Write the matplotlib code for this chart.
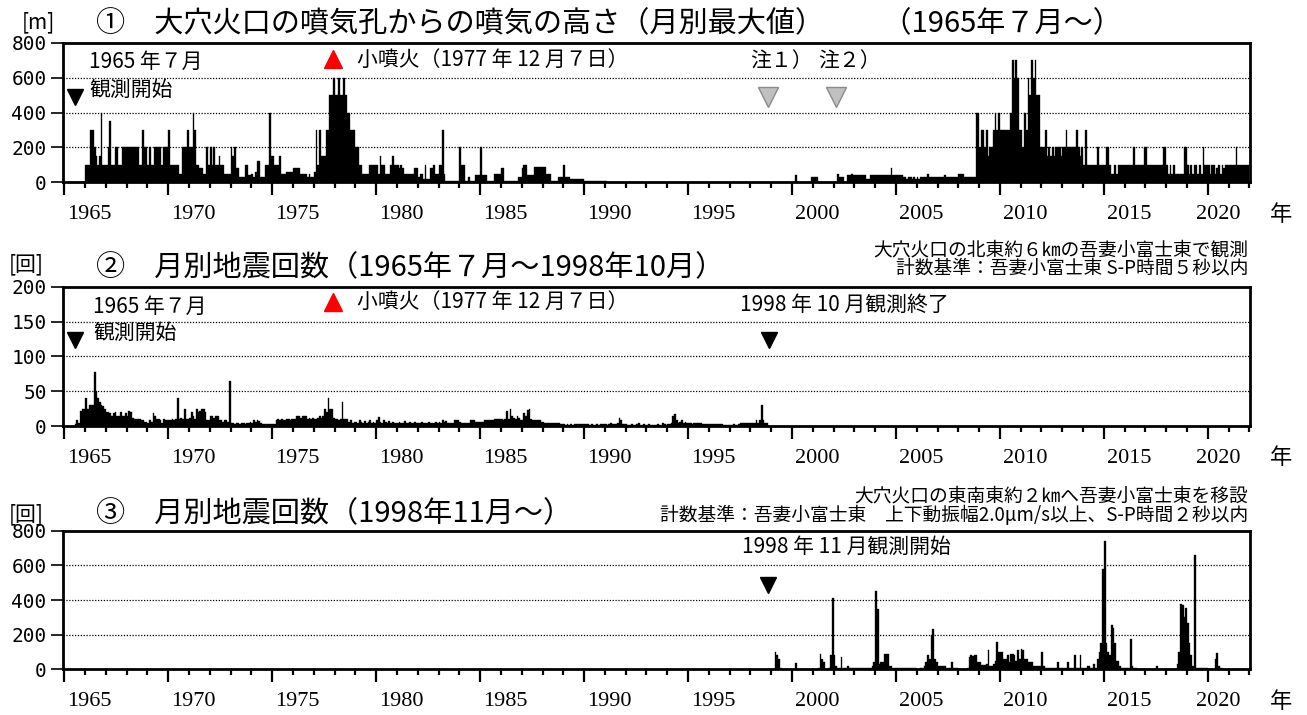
import numpy as np
import matplotlib
matplotlib.use("Agg")
import matplotlib.pyplot as plt
from matplotlib.ticker import MultipleLocator
import matplotlib.transforms as mtrans

JP = ['Noto Sans CJK JP', 'DejaVu Sans']
plt.rcParams['font.family'] = JP

# ---------------- data ----------------
# (1) monthly maximum plume height [m], Jan 1965 .. Dec 2021 (observation from Jul 1965)
plume_start = 1965.0
plume_height = (
    [0, 0, 0, 0, 0, 0, 0, 0, 0, 0, 0, 0] +                          # 1965
    [100, 100, 100, 300, 300, 200, 150, 100, 150, 400, 100, 100] +  # 1966
    [100, 200, 350, 100, 100, 200, 200, 100, 100, 200, 200, 200] +  # 1967
    [200, 200, 200, 200, 200, 200, 200, 100, 100, 300, 200, 200] +  # 1968
    [100, 200, 100, 100, 200, 200, 200, 200, 100, 200, 200, 200] +  # 1969
    [300, 100, 100, 100, 100, 100, 50, 50, 200, 200, 200, 300] +    # 1970
    [200, 200, 400, 300, 100, 100, 80, 80, 50, 50, 200, 100] +      # 1971
    [200, 100, 200, 100, 100, 150, 100, 100, 50, 50, 50, 50] +      # 1972
    [200, 150, 200, 80, 80, 30, 30, 30, 100, 100, 40, 40] +         # 1973
    [50, 30, 60, 120, 120, 30, 30, 30, 100, 100, 400, 150] +        # 1974
    [150, 100, 100, 100, 150, 50, 50, 50, 60, 60, 60, 60] +         # 1975
    [80, 80, 80, 80, 50, 50, 50, 50, 30, 50, 30, 30] +              # 1976
    [60, 300, 100, 300, 150, 150, 150, 300, 300, 500, 500, 600] +   # 1977
    [500, 500, 600, 500, 500, 600, 500, 400, 400, 300, 300, 300] +  # 1978
    [200, 200, 100, 100, 50, 50, 50, 50, 100, 100, 100, 100] +      # 1979
    [100, 50, 150, 100, 100, 50, 50, 50, 100, 150, 100, 100] +      # 1980
    [100, 80, 100, 80, 50, 50, 50, 50, 50, 50, 80, 80] +            # 1981
    [30, 50, 50, 20, 100, 20, 20, 80, 80, 100, 50, 50] +            # 1982
    [100, 100, 300, 50, 10, 10, 10, 10, 10, 10, 10, 10] +           # 1983
    [200, 100, 100, 10, 10, 30, 5, 5, 5, 40, 40, 40] +              # 1984
    [200, 40, 40, 40, 5, 5, 5, 5, 50, 50, 50, 50] +                 # 1985
    [80, 80, 5, 5, 5, 5, 5, 5, 5, 5, 30, 30] +                      # 1986
    [80, 100, 100, 40, 40, 40, 40, 90, 90, 90, 90, 90] +            # 1987
    [90, 90, 50, 50, 50, 10, 10, 10, 10, 30, 30, 30] +              # 1988
    [100, 30, 30, 30, 20, 20, 20, 20, 20, 20, 20, 20] +             # 1989
    [10, 10, 10, 10, 10, 10, 10, 8, 8, 8, 8, 8] +                   # 1990
    [8, 0, 0, 0, 0, 0, 0, 0, 0, 0, 0, 0] +                          # 1991
    [0, 0, 0, 0, 0, 0, 0, 0, 0, 0, 0, 0] +                          # 1992
    [0, 0, 0, 0, 0, 0, 0, 0, 0, 0, 0, 0] +                          # 1993
    [0, 0, 0, 0, 0, 0, 0, 0, 0, 0, 0, 0] +                          # 1994
    [0, 0, 0, 0, 0, 0, 0, 0, 0, 0, 0, 0] +                          # 1995
    [0, 0, 0, 0, 0, 0, 0, 0, 0, 0, 0, 0] +                          # 1996
    [0, 0, 0, 0, 0, 0, 0, 0, 0, 0, 0, 0] +                          # 1997
    [0, 0, 0, 0, 0, 0, 0, 0, 0, 0, 0, 0] +                          # 1998
    [0, 0, 0, 0, 0, 0, 0, 0, 0, 0, 0, 0] +                          # 1999
    [0, 0, 40, 0, 0, 0, 0, 0, 0, 0, 0, 30] +                        # 2000
    [30, 30, 30, 0, 0, 0, 0, 0, 0, 0, 0, 0] +                       # 2001
    [0, 0, 50, 30, 30, 30, 0, 0, 40, 40, 50, 40] +                  # 2002
    [40, 40, 40, 40, 40, 40, 40, 20, 20, 40, 40, 40] +              # 2003
    [40, 40, 40, 40, 40, 40, 40, 40, 40, 80, 40, 40] +              # 2004
    [40, 40, 40, 40, 30, 30, 20, 30, 30, 20, 30, 20] +              # 2005
    [30, 20, 30, 30, 30, 30, 50, 30, 30, 30, 30, 30] +              # 2006
    [30, 30, 30, 30, 40, 30, 30, 30, 30, 30, 30, 30] +              # 2007
    [50, 50, 50, 30, 30, 30, 30, 30, 30, 30, 400, 400] +            # 2008
    [200, 300, 300, 200, 300, 150, 200, 200, 300, 400, 300, 400] +  # 2009
    [300, 300, 300, 300, 300, 300, 400, 700, 600, 700, 600, 300] +  # 2010
    [300, 200, 400, 300, 600, 500, 700, 600, 700, 500, 500, 200] +  # 2011
    [200, 200, 300, 150, 200, 150, 200, 150, 200, 200, 200, 150] +  # 2012
    [200, 200, 300, 200, 200, 200, 200, 200, 300, 200, 150, 200] +  # 2013
    [100, 300, 100, 100, 100, 100, 100, 100, 200, 100, 100, 100] +  # 2014
    [100, 200, 200, 100, 50, 50, 100, 50, 100, 100, 100, 100] +     # 2015
    [100, 100, 100, 100, 100, 200, 100, 100, 100, 100, 100, 200] +  # 2016
    [200, 100, 100, 100, 100, 100, 100, 100, 100, 100, 200, 200] +  # 2017
    [100, 50, 100, 50, 100, 50, 50, 50, 50, 50, 200, 200] +         # 2018
    [100, 50, 100, 50, 100, 100, 50, 100, 50, 200, 100, 100] +      # 2019
    [100, 50, 100, 100, 50, 80, 100, 50, 100, 80, 100, 100] +       # 2020
    [100, 100, 100, 100, 200, 100, 100, 100, 100, 100, 100, 100]    # 2021
)

# (2) monthly earthquake count, Jul 1965 .. Oct 1998
quake_old_start = 1965.5
quake_old = (
    [3, 8, 5, 22, 25, 25] +                                   # 1965 Jul-Dec
    [40, 25, 30, 30, 30, 78, 50, 40, 35, 30, 28, 25] +        # 1966
    [20, 20, 18, 15, 18, 20, 15, 15, 20, 15, 15, 18] +        # 1967
    [15, 22, 20, 12, 10, 10, 10, 10, 8, 8, 6, 6] +            # 1968
    [5, 8, 6, 18, 15, 10, 10, 8, 5, 10, 8, 8] +               # 1969
    [8, 8, 10, 8, 10, 40, 10, 12, 10, 25, 10, 10] +           # 1970
    [12, 20, 15, 10, 25, 20, 22, 25, 25, 20, 8, 8] +          # 1971
    [15, 15, 12, 15, 15, 8, 8, 6, 8, 8, 6, 65] +              # 1972
    [5, 4, 3, 5, 4, 3, 4, 5, 3, 4, 5, 6] +                    # 1973
    [5, 8, 6, 8, 7, 5, 3, 3, 3, 3, 3, 3] +                    # 1974
    [3, 3, 8, 10, 8, 10, 9, 8, 10, 10, 8, 10] +               # 1975
    [10, 10, 15, 15, 12, 15, 15, 15, 10, 12, 10, 12] +        # 1976
    [10, 10, 12, 15, 12, 15, 25, 20, 40, 25, 25, 12] +        # 1977
    [10, 10, 8, 10, 35, 10, 10, 10, 6, 8, 5, 6] +             # 1978
    [6, 5, 8, 6, 5, 7, 5, 6, 8, 5, 6, 5] +                    # 1979
    [8, 13, 6, 5, 8, 6, 5, 7, 5, 6, 5, 4] +                   # 1980
    [5, 6, 4, 5, 7, 5, 4, 6, 5, 4, 6, 5] +                    # 1981
    [5, 4, 6, 5, 4, 5, 6, 4, 5, 5, 6, 5] +                    # 1982
    [6, 5, 8, 6, 7, 5, 5, 5, 5, 8, 8, 8] +                    # 1983
    [6, 4, 5, 4, 5, 4, 8, 8, 8, 6, 6, 6] +                    # 1984
    [6, 6, 8, 8, 8, 8, 8, 8, 10, 10, 10, 10] +                # 1985
    [10, 8, 10, 22, 10, 24, 15, 12, 10, 15, 12, 8] +          # 1986
    [8, 18, 15, 23, 25, 10, 8, 8, 8, 8, 8, 6] +               # 1987
    [6, 5, 5, 5, 5, 5, 5, 5, 5, 5, 3, 3] +                    # 1988
    [3, 2, 3, 2, 3, 2, 3, 3, 3, 3, 3, 3] +                    # 1989
    [3, 3, 3, 2, 3, 2, 2, 3, 2, 3, 3, 3] +                    # 1990
    [3, 2, 3, 5, 3, 3, 3, 5, 12, 8, 3, 3] +                   # 1991
    [3, 2, 2, 3, 2, 2, 3, 5, 2, 2, 3, 2] +                    # 1992
    [2, 3, 2, 2, 2, 2, 3, 2, 2, 5, 3, 2] +                    # 1993
    [3, 3, 5, 15, 17, 8, 5, 6, 8, 5, 6, 5] +                  # 1994
    [5, 5, 3, 5, 5, 5, 5, 5, 3, 3, 3, 3] +                    # 1995
    [3, 3, 3, 3, 3, 3, 3, 3, 2, 2, 2, 2] +                    # 1996
    [2, 2, 3, 2, 2, 3, 5, 5, 5, 5, 5, 5] +                    # 1997
    [5, 5, 5, 8, 5, 8, 30, 8, 5, 5]                           # 1998 Jan-Oct
)

# (3) monthly earthquake count, Nov 1998 .. Dec 2021
quake_new_start = 1998 + 10 / 12
quake_new = (
    [0, 0] +                                                  # 1998 Nov-Dec
    [0, 0, 100, 80, 60, 10, 0, 0, 0, 0, 0, 0] +               # 1999
    [0, 0, 35, 0, 0, 0, 0, 0, 0, 0, 0, 0] +                   # 2000
    [0, 0, 0, 10, 90, 60, 40, 0, 0, 10, 80, 410] +            # 2001
    [80, 20, 10, 10, 70, 10, 5, 5, 20, 10, 5, 10] +           # 2002
    [10, 5, 5, 10, 5, 5, 10, 5, 5, 10, 20, 40] +              # 2003
    [450, 350, 30, 40, 40, 86, 90, 90, 20, 20, 10, 10] +      # 2004
    [5, 5, 5, 5, 5, 5, 5, 5, 5, 5, 5, 5] +                    # 2005
    [0, 0, 5, 10, 20, 40, 80, 60, 200, 230, 60, 40] +         # 2006
    [20, 20, 20, 20, 20, 5, 5, 5, 40, 5, 5, 5] +              # 2007
    [0, 0, 0, 0, 0, 5, 70, 80, 75, 80, 80, 40] +              # 2008
    [40, 25, 25, 25, 30, 110, 20, 20, 30, 50, 160, 100] +     # 2009
    [100, 100, 60, 60, 80, 40, 90, 90, 80, 50, 110, 60] +     # 2010
    [120, 110, 60, 60, 40, 40, 40, 20, 20, 20, 20, 20] +      # 2011
    [100, 20, 10, 10, 10, 5, 5, 5, 10, 40, 10, 5] +           # 2012
    [5, 5, 10, 40, 5, 5, 10, 80, 5, 10, 80, 10] +             # 2013
    [10, 10, 20, 20, 10, 10, 30, 10, 60, 100, 150, 580] +     # 2014
    [740, 150, 100, 80, 255, 240, 150, 50, 50, 20, 10, 10] +  # 2015
    [5, 5, 10, 175, 20, 5, 5, 0, 0, 0, 0, 0] +                # 2016
    [0, 0, 0, 0, 0, 0, 20, 0, 0, 0, 0, 0] +                   # 2017
    [0, 0, 0, 0, 0, 0, 30, 100, 375, 370, 300, 355] +         # 2018
    [270, 150, 80, 20, 660, 10, 5, 5, 5, 5, 5, 5] +           # 2019
    [0, 0, 0, 0, 60, 92, 20, 5, 0, 0, 0, 0] +                 # 2020
    [0, 0, 0, 0, 0, 0, 0, 0, 0, 0, 0, 0]                      # 2021
)

year_ticks = list(range(1965, 2021, 5))
ylims = [800, 200, 800]
yticks = [[0, 200, 400, 600, 800], [0, 50, 100, 150, 200], [0, 200, 400, 600, 800]]

titles = ['①　大穴火口の噴気孔からの噴気の高さ（月別最大値）　　（1965年７月～）',
          '②　月別地震回数（1965年７月～1998年10月）',
          '③　月別地震回数（1998年11月～）']
units = ['[m]', '[回]', '[回]']
notes2 = '大穴火口の北東約６㎞の吾妻小富士東で観測\n計数基準：吾妻小富士東 S-P時間５秒以内'
notes3 = '大穴火口の東南東約２㎞へ吾妻小富士東を移設\n計数基準：吾妻小富士東　上下動振幅2.0μm/s以上、S-P時間２秒以内'

# ---------------- figure ----------------
W, H = 1307, 715
fig = plt.figure(figsize=(W / 100, H / 100), dpi=100)

L, R = 63.3, 1250.0
frames = [(42.7, 182.3), (286.7, 426.0), (530.7, 669.3)]
axes = []
for top, bot in frames:
    axes.append(fig.add_axes([L / W, 1 - bot / H, (R - L) / W, (bot - top) / H]))

series = [(plume_start, plume_height), (quake_old_start, quake_old), (quake_new_start, quake_new)]

for i, ax in enumerate(axes):
    ax.set_xlim(1964.95, 2022.03)
    ax.set_ylim(0, ylims[i])
    start, vals = series[i]
    x = start + np.arange(len(vals)) / 12.0
    ax.bar(x, vals, width=1 / 12, align='edge', color='k', edgecolor='k',
           linewidth=0.25, zorder=2)
    for gy in yticks[i][1:-1]:
        ax.axhline(gy, color='k', linestyle=(0, (1, 1.3)), linewidth=0.9, zorder=1)
    ax.set_yticks(yticks[i])
    ax.set_yticklabels([str(v) for v in yticks[i]], fontfamily='DejaVu Sans Mono', fontsize=14)
    ax.set_xticks(year_ticks)
    ax.set_xticklabels([])
    ax.xaxis.set_minor_locator(MultipleLocator(1))
    ax.tick_params(axis='x', which='major', direction='out', length=9, width=1.6)
    ax.tick_params(axis='x', which='minor', direction='out', length=4, width=1.6)
    ax.tick_params(axis='y', which='major', direction='out', length=9, width=1.2, pad=3)
    for s in ax.spines.values():
        s.set_linewidth(2.0)
    bt = mtrans.blended_transform_factory(ax.transData, ax.transAxes)
    hpx = frames[i][1] - frames[i][0]
    for yr in year_ticks:
        off = 0.5 if yr == 2020 else 1.2
        ax.text(yr + off, -32 / hpx, str(yr), transform=bt, ha='center', va='center',
                fontfamily='Liberation Serif', fontsize=16, clip_on=False)
    fig.text(1281 / W, 1 - (frames[i][1] + 32) / H, '年', ha='center', va='center', fontsize=16)

title_y = [24, 268, 514]
unit_y = [22, 264, 514]
for i in range(3):
    fig.text(96 / W, 1 - title_y[i] / H, titles[i], ha='left', va='center', fontsize=21)
    fig.text((22 if i == 0 else 9) / W, 1 - unit_y[i] / H, units[i], ha='left', va='center', fontsize=15)

ax1, ax2, ax3 = axes
fs = 15
# panel 1 annotations
ax1.text(1966.19, 689, '1965 年７月', fontsize=fs, va='center', ha='left')
ax1.text(1966.19, 528, '観測開始', fontsize=fs, va='center', ha='left')
ax1.plot([1965.5], [489], marker='v', ms=12, color='k', clip_on=False)
ax1.plot([1977.93], [709], marker='^', ms=13, color='#ff0000', clip_on=False)
ax1.text(1979.07, 701, '小噴火（1977 年 12 月７日）', fontsize=fs, va='center', ha='left')
ax1.text(1997.97, 695, '注１）', fontsize=fs, va='center', ha='left')
ax1.text(2001.25, 695, '注２）', fontsize=fs, va='center', ha='left')
ax1.plot([1998.85, 2002.12], [490, 490], linestyle='none', marker='v', ms=14,
         markerfacecolor='#c0c0c0', markeredgecolor='#8a8a8a', markeredgewidth=1)

# panel 2 annotations
ax2.text(1966.39, 171, '1965 年７月', fontsize=fs, va='center', ha='left')
ax2.text(1966.39, 133.5, '観測開始', fontsize=fs, va='center', ha='left')
ax2.plot([1965.5], [123.5], marker='v', ms=12, color='k')
ax2.plot([1977.93], [178], marker='^', ms=13, color='#ff0000')
ax2.text(1979.07, 178, '小噴火（1977 年 12 月７日）', fontsize=fs, va='center', ha='left')
ax2.text(1997.5, 173.7, '1998 年 10 月観測終了', fontsize=fs, va='center', ha='left')
ax2.plot([1998.9], [123.5], marker='v', ms=12, color='k')
fig.text(1248 / W, 1 - 259 / H, notes2, ha='right', va='center', multialignment='right',
         fontsize=13.5, linespacing=0.85)

# panel 3 annotations
ax3.text(1997.6, 706, '1998 年 11 月観測開始', fontsize=fs, va='center', ha='left')
ax3.plot([1998.85], [487], marker='v', ms=12, color='k')
fig.text(1248 / W, 1 - 506 / H, notes3, ha='right', va='center', multialignment='right',
         fontsize=13.5, linespacing=0.92)

fig.savefig('out.png', dpi=100)
